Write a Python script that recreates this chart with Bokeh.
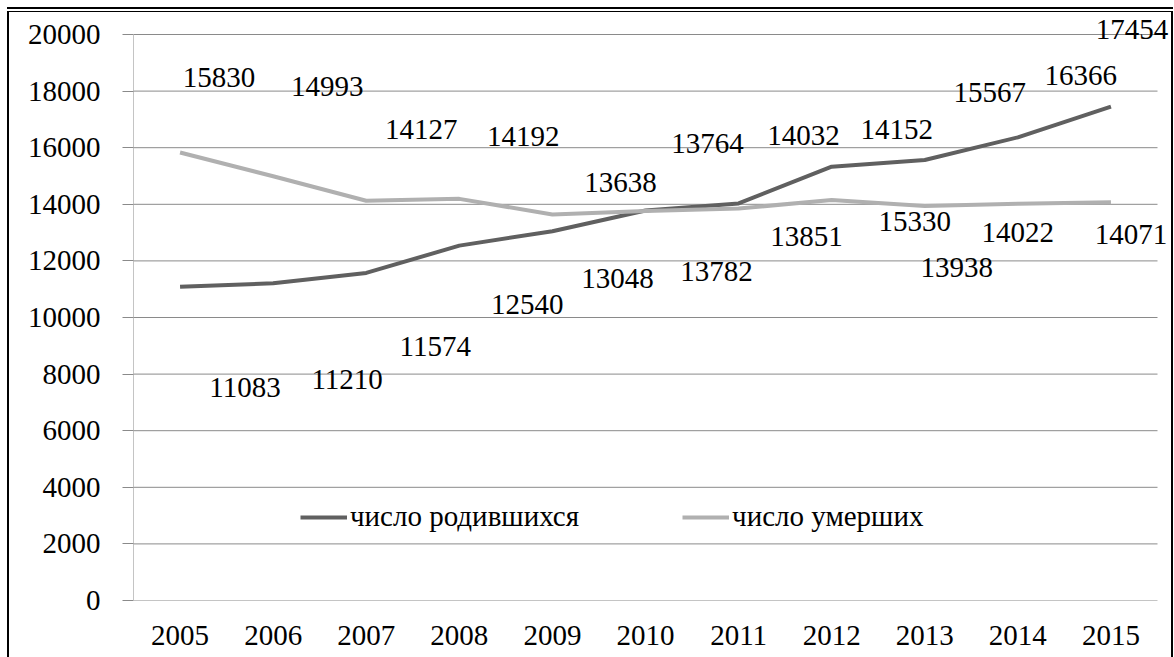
from bokeh.plotting import figure
from bokeh.models import ColumnDataSource, FixedTicker, Range1d, LabelSet
from bokeh.core.properties import value
from bokeh.embed import file_html
from bokeh.resources import INLINE

# ---- data ----
years = [2005, 2006, 2007, 2008, 2009, 2010, 2011, 2012, 2013, 2014, 2015]
births = [11083, 11210, 11574, 12540, 13048, 13782, 14032, 15330, 15567, 16366, 17454]
deaths = [15830, 14993, 14127, 14192, 13638, 13764, 13851, 14152, 13938, 14022, 14071]
y_ticks = [0, 2000, 4000, 6000, 8000, 10000, 12000, 14000, 16000, 18000, 20000]
births_name = "число родившихся"
deaths_name = "число умерших"

# ---- data-label offsets (pixels: right, down) ----
births_dx = [65, 74, 69, 68, 65, 71, 65, 83, 65, 63, 21]
births_dy = [101, 96, 74, 59, 47, 61, -68, 55, -67, -62, -77]
deaths_dx = [39, 54, 55, 64, 68, 62, 68, 65, 32, 0, 20]
deaths_dy = [-75, -90, -71, -62, -32, -67, 28, -70, 61, 29, 32]

FONT = "Liberation Serif"
FS = "29px"
GRID = "#8a8a8a"
DARK = "#606060"
LIGHT = "#b0b0b0"

# ---- layout geometry (pixels) ----
W, H = 1174, 657
LEFT, TOP, BOTTOM = 133, 12, 57
AXIS_TOP = 34                      # pixel row of the top gridline
PLOT_W = 1024                      # width of the category area
frame_w = W - LEFT
frame_h = H - TOP - BOTTOM
cat_w = PLOT_W / len(years)
x0 = years[0] - 0.5
x1 = years[-1] + 0.5
x_end = x0 + frame_w / cat_w
y_top = y_ticks[-1]
y_end = y_top * frame_h / (frame_h - (AXIS_TOP - TOP))

p = figure(width=W, height=H, x_range=Range1d(x0, x_end), y_range=Range1d(0, y_end),
           output_backend="svg", toolbar_location=None,
           min_border_left=LEFT, min_border_right=0, min_border_top=TOP,
           min_border_bottom=BOTTOM)
p.outline_line_color = None
p.background_fill_color = None
p.border_fill_color = None
p.styles = {
    "background-color": "white",
    "box-shadow": ", ".join([
        "inset 0 7px 0 0 #fff",
        "inset 7px 0 0 0 #fff",
        "inset -1px 0 0 0 #fff",
        "inset 0 9px 0 0 #000",
        "inset 0 11px 0 0 #fff",
        "inset 9px 0 0 0 #000",
        "inset -3px 0 0 0 #000",
        "inset 0 12px 0 0 #000",
    ]),
}

# gridlines and vertical axis line, limited to the category area
p.segment(x0=[x0] * len(y_ticks), x1=[x1] * len(y_ticks), y0=y_ticks, y1=y_ticks,
          line_color=GRID, line_width=1)
p.segment(x0=[x0], x1=[x0], y0=[0], y1=[y_top], line_color=GRID, line_width=1)

src_b = ColumnDataSource(dict(x=years, y=births, t=[str(v) for v in births],
                              dx=births_dx, dy=[-d for d in births_dy]))
src_d = ColumnDataSource(dict(x=years, y=deaths, t=[str(v) for v in deaths],
                              dx=deaths_dx, dy=[-d for d in deaths_dy]))

p.line("x", "y", source=src_b, line_color=DARK, line_width=4, legend_label=births_name)
p.line("x", "y", source=src_d, line_color=LIGHT, line_width=4, legend_label=deaths_name)

for src in (src_b, src_d):
    p.add_layout(LabelSet(x="x", y="y", text="t", source=src, x_offset="dx", y_offset="dy",
                          text_font=value(FONT), text_font_size=FS, text_color="black",
                          text_align="center", text_baseline="middle"))

# axes
p.xgrid.grid_line_color = None
p.ygrid.grid_line_color = None
p.yaxis.ticker = FixedTicker(ticks=y_ticks)
p.xaxis.ticker = FixedTicker(ticks=years)
for ax in (p.xaxis[0], p.yaxis[0]):
    ax.axis_line_color = None
    ax.major_tick_line_color = GRID
    ax.minor_tick_line_color = None
    ax.major_tick_in = 0
    ax.major_label_text_font = FONT
    ax.major_label_text_font_size = FS
    ax.major_label_text_color = "black"
p.yaxis.major_tick_out = 11
p.yaxis.major_label_standoff = 22
p.xaxis.major_tick_out = 0
p.xaxis.major_tick_line_color = None
p.xaxis.major_label_standoff = 25

# legend
lg = p.legend[0]
lg.orientation = "horizontal"
lg.location = (167, 67)
lg.margin = 0
lg.padding = 0
lg.spacing = 103
lg.glyph_width = 47
lg.glyph_height = 30
lg.label_standoff = 3
lg.label_text_font = FONT
lg.label_text_font_size = FS
lg.label_text_color = "black"
lg.background_fill_alpha = 0
lg.border_line_color = None

open("out.html", "w").write(file_html(p, INLINE))
